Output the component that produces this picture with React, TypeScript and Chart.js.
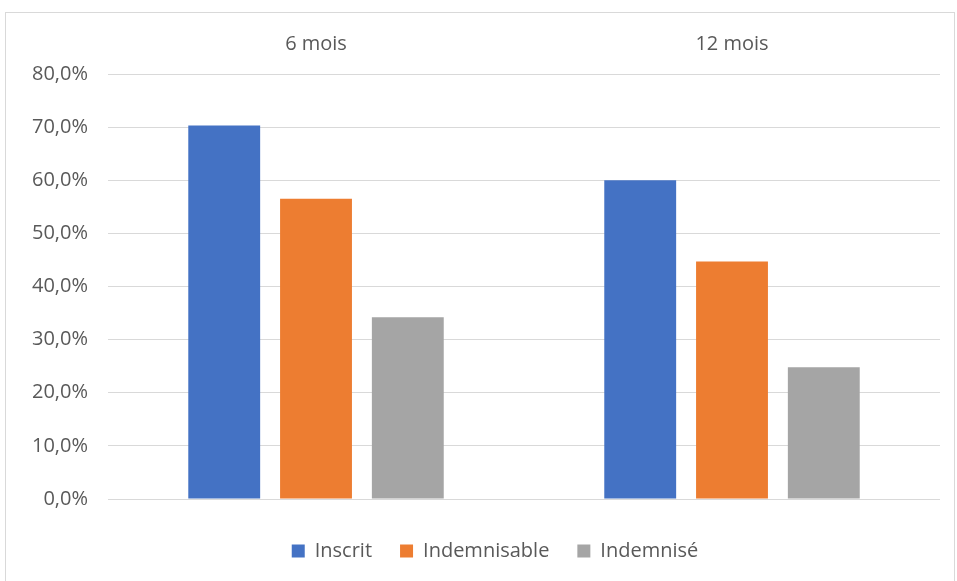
import React, { useEffect, useRef } from "react";
import { Chart, registerables } from "chart.js";

Chart.register(...registerables);

const categories = ["6 mois", "12 mois"];
const inscrit = [70.3, 60.0];
const indemnisable = [56.5, 44.7];
const indemnise = [34.2, 24.8];
const seriesNames = ["Inscrit", "Indemnisable", "Indemnisé"];

export default function App() {
  const ref = useRef<HTMLCanvasElement | null>(null);
  useEffect(() => {
    if (!ref.current) return;
    const font = "Open Sans, Calibri, Carlito, sans-serif";
    const shiftLegend = {
      id: "shiftLegend",
      afterLayout(chart: any) {
        if (chart.legend) {
          chart.legend.left += 19;
          chart.legend.right += 19;
        }
      },
    };
    const chart = new Chart(ref.current, {
      type: "bar",
      data: {
        labels: categories,
        datasets: [
          { label: seriesNames[0], data: inscrit, backgroundColor: "#4472C4" },
          { label: seriesNames[1], data: indemnisable, backgroundColor: "#ED7D31" },
          { label: seriesNames[2], data: indemnise, backgroundColor: "#A5A5A5" },
        ],
      },
      plugins: [shiftLegend],
      options: {
        animation: false,
        responsive: true,
        maintainAspectRatio: false,
        layout: { padding: { left: 6, right: 14, top: 1, bottom: 15 } },
        datasets: { bar: { barPercentage: 0.783, categoryPercentage: 0.662 } },
        plugins: {
          tooltip: { enabled: false },
          legend: {
            position: "bottom",
            title: {
              display: true,
              text: "",
              padding: { top: 4, bottom: 0 },
              font: { size: 10, lineHeight: 1 },
            },
            labels: {
              boxWidth: 13,
              boxHeight: 13,
              padding: 28,
              color: "#595959",
              font: { family: font, size: 20 },
            },
          },
        },
        scales: {
          x: {
            position: "top",
            grid: { display: false, drawTicks: false },
            border: { display: false },
            ticks: { color: "#595959", font: { family: font, size: 20 }, padding: 18 },
          },
          y: {
            min: 0,
            max: 80,
            grid: { color: "#D9D9D9", lineWidth: 1, drawTicks: false },
            border: { display: false },
            ticks: {
              stepSize: 10,
              color: "#595959",
              padding: 20,
              font: { family: font, size: 20 },
              callback: (v: any) => Number(v).toFixed(1).replace(".", ",") + "%",
            },
          },
        },
      },
    });
    return () => chart.destroy();
  }, []);
  return (
    <div
      style={{
        position: "fixed",
        left: 5,
        top: 12,
        width: 950,
        height: 575,
        border: "1px solid #D9D9D9",
        background: "#fff",
        boxSizing: "border-box",
      }}
    >
      <canvas ref={ref} />
    </div>
  );
}
